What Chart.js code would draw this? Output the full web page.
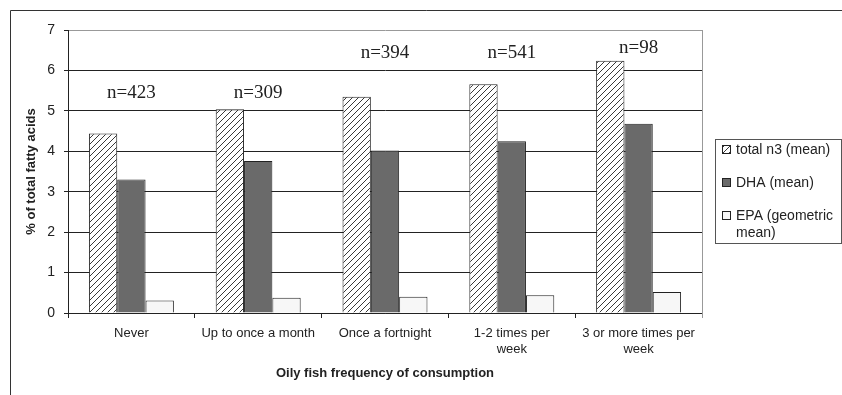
<!DOCTYPE html>
<html><head><meta charset="utf-8">
<script src="https://cdn.jsdelivr.net/npm/chart.js@4"></script>
<style>html,body{margin:0;padding:0;background:#fff}</style>
</head><body>
<canvas id="c" width="842" height="395"></canvas>
<script>
const categories = ['Never', 'Up to once a month', 'Once a fortnight', ['1-2 times per', 'week'], ['3 or more times per', 'week']];
const totalN3 = [4.44, 5.04, 5.35, 5.66, 6.24];
const dha = [3.30, 3.76, 4.02, 4.25, 4.68];
const epa = [0.31, 0.38, 0.40, 0.44, 0.52];
const sampleSizes = [423, 309, 394, 541, 98];
const yTicks = [0, 1, 2, 3, 4, 5, 6, 7];
const seriesNames = ['total n3 (mean)', 'DHA (mean)', 'EPA (geometric mean)'];

function makeHatch(size) {
  const c = document.createElement('canvas');
  c.width = size; c.height = size;
  const x = c.getContext('2d');
  x.fillStyle = '#fff'; x.fillRect(0, 0, size, size);
  x.strokeStyle = '#222'; x.lineWidth = 0.9;
  x.beginPath();
  x.moveTo(-1, 1); x.lineTo(1, -1);
  x.moveTo(0, size); x.lineTo(size, 0);
  x.moveTo(size - 1, size + 1); x.lineTo(size + 1, size - 1);
  x.stroke();
  return document.getElementById('c').getContext('2d').createPattern(c, 'repeat');
}
const hatch = makeHatch(6);
const fills = [hatch, '#6a6a6a', '#f7f7f7'];

const nLabelLevels = [5.44, 5.44, 6.43, 6.43, 6.55];

const decorPlugin = {
  id: 'decor',
  beforeDraw(chart) {
    const ctx = chart.ctx;
    ctx.save();
    ctx.fillStyle = '#fff';
    ctx.fillRect(0, 0, chart.width, chart.height);
    ctx.strokeStyle = '#333'; ctx.lineWidth = 1;
    ctx.beginPath();
    ctx.moveTo(10.5, 395); ctx.lineTo(10.5, 10.5); ctx.lineTo(842, 10.5);
    ctx.stroke();
    ctx.restore();
  },
  beforeDatasetsDraw(chart) {
    const ctx = chart.ctx, a = chart.chartArea;
    ctx.save();
    ctx.strokeStyle = '#999'; ctx.lineWidth = 1;
    ctx.beginPath();
    ctx.moveTo(Math.round(a.right) + 0.5, a.top); ctx.lineTo(Math.round(a.right) + 0.5, a.bottom + 5);
    ctx.stroke();
    ctx.restore();
  },
  afterDatasetsDraw(chart) {
    const ctx = chart.ctx, xs = chart.scales.x, ys = chart.scales.y;
    ctx.save();
    ctx.font = '19px "Liberation Serif", "Times New Roman", serif';
    ctx.fillStyle = '#222'; ctx.textAlign = 'center'; ctx.textBaseline = 'middle';
    sampleSizes.forEach((n, i) => {
      ctx.fillText('n=' + n, xs.getPixelForValue(i), ys.getPixelForValue(nLabelLevels[i]));
    });
    ctx.restore();
  },
  afterDraw(chart) {
    const ctx = chart.ctx;
    const bx = 715.5, by = 139.5, bw = 126, bh = 104;
    ctx.save();
    ctx.strokeStyle = '#555'; ctx.lineWidth = 1;
    ctx.strokeRect(bx, by, bw, bh);
    ctx.font = '14px "Liberation Sans", Arial, sans-serif';
    ctx.fillStyle = '#222'; ctx.textBaseline = 'middle'; ctx.textAlign = 'left';
    const rows = [150, 183, 216];
    chart.data.datasets.forEach((ds, i) => {
      const y = rows[i];
      ctx.fillStyle = fills[i];
      ctx.fillRect(722, y - 4, 8, 8);
      ctx.strokeStyle = '#222';
      ctx.strokeRect(722.5, y - 4.5, 8, 8);
      ctx.fillStyle = '#222';
      const words = ds.label.split(' ');
      let lines = [], cur = '';
      words.forEach(w => {
        const t = cur ? cur + ' ' + w : w;
        if (ctx.measureText(t).width > 102 && cur) { lines.push(cur); cur = w; } else cur = t;
      });
      lines.push(cur);
      lines.forEach((l, k) => ctx.fillText(l, 736, y + k * 17));
    });
    ctx.restore();
  }
};

new Chart(document.getElementById('c'), {
  type: 'bar',
  data: {
    labels: categories,
    datasets: [
      { label: seriesNames[0], data: totalN3, backgroundColor: fills[0], borderColor: '#222', borderWidth: 1 },
      { label: seriesNames[1], data: dha, backgroundColor: fills[1], borderColor: '#222', borderWidth: 1 },
      { label: seriesNames[2], data: epa, backgroundColor: fills[2], borderColor: '#222', borderWidth: 1 }
    ]
  },
  options: {
    responsive: false,
    animation: false,
    devicePixelRatio: 1,
    datasets: { bar: { categoryPercentage: 0.67, barPercentage: 1.0 } },
    layout: { padding: { top: 30, right: 140, left: 0, bottom: 0 } },
    plugins: { legend: { display: false }, tooltip: { enabled: false } },
    scales: {
      x: {
        afterFit(s) { s.height = 82; },
        grid: { drawOnChartArea: false, tickLength: 5, color: '#222', offset: true },
        border: { color: '#222', width: 1 },
        ticks: { color: '#222', padding: 8, maxRotation: 0, autoSkip: false,
          font: { family: '"Liberation Sans", Arial, sans-serif', size: 13 } },
        title: { display: true, text: 'Oily fish frequency of consumption', color: '#222',
          font: { family: '"Liberation Sans", Arial, sans-serif', size: 13, weight: 'bold' },
          padding: { top: 0, bottom: 14 } }
      },
      y: {
        min: 0, max: 7,
        afterFit(s) { s.width = 68; },
        afterBuildTicks(s) { s.ticks = yTicks.map(v => ({ value: v })); },
        grid: { tickLength: 4, color: c => c.tick && c.tick.value === 7 ? '#999' : '#222', tickColor: '#222' },
        border: { color: '#222', width: 1 },
        ticks: { color: '#222', padding: 9,
          font: { family: '"Liberation Sans", Arial, sans-serif', size: 14 } },
        title: { display: true, text: '% of total fatty acids', color: '#222',
          font: { family: '"Liberation Sans", Arial, sans-serif', size: 13, weight: 'bold' },
          padding: { top: 24, bottom: 0 } }
      }
    }
  },
  plugins: [decorPlugin]
});
</script>
</body></html>
